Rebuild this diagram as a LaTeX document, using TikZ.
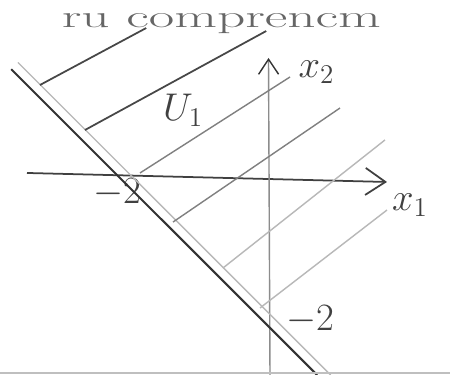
\RequirePackage{fix-cm}
\documentclass[tikz,border=0pt]{standalone}
\usetikzlibrary{
    arrows.meta
}

\begin{document}
\begin{tikzpicture}[
    x=1.5cm,
    y=1.5cm,
    every node/.style={
        font=\fontsize{22pt}{26pt}\selectfont,
        text=black!75
    },
    axislabel/.style={
        inner sep=0pt
    },
    haxis/.style={
        -{Straight Barb[length=4mm,width=5.4mm]},
        line width=1pt,
        draw=black!75
    },
    vaxis/.style={
        -{Straight Barb[length=3mm,width=4mm,color=black!80]},
        line width=0.8pt,
        draw=black!45
    },
    boundary/.style={
        line width=1.2pt,
        draw=black!80
    },
    boundarytwin/.style={
        line width=0.8pt,
        draw=black!28
    },
    hatchdark/.style={
        line width=1pt,
        draw=black!72
    },
    hatchmid/.style={
        line width=0.8pt,
        draw=black!50
    },
    hatchlight/.style={
        line width=0.8pt,
        draw=black!28
    },
    pageedge/.style={
        line width=0.8pt,
        draw=black!25
    }
]

% picture frame (white page)
\fill[white] (-3.6,-2.6267) rectangle (2.4,2.3733);
\useasboundingbox (-3.6,-2.6267) rectangle (2.4,2.3733);

% ===========================================================
% Heading at the top edge
% ===========================================================

\node[anchor=base west, inner sep=0pt, text=black!60,
      font=\fontsize{18pt}{22pt}\selectfont] (heading)
    at (-2.78,2.0)
    {\scalebox{1.75}[1]{ru comprencm}};

% ===========================================================
% Axes
% ===========================================================

\coordinate (xstart) at (-3.24,0.067);
\coordinate (xend)   at (1.56,-0.053);
\coordinate (ystart) at (0,-2.6267);
\coordinate (yend)   at (-0.02,1.6);

\draw[haxis] (xstart) -- (xend);
\draw[vaxis] (ystart) -- (yend);

\node[axislabel] (xone) at (1.867,-0.36) {$x_1$};
\node[axislabel] (xtwo) at (0.62,1.413) {$x_2$};

\node[axislabel] (xmark) at (-2.04,-0.2) {$-2$};
\node[axislabel] (ymark) at (0.533,-1.893) {$-2$};

% ===========================================================
% Boundary line x_1 + x_2 = -2 and its light twin
% ===========================================================

\coordinate (bdtop) at (-3.45,1.45);
\coordinate (bdbot) at (0.627,-2.6267);
\coordinate (twtop) at (-3.36,1.54);
\coordinate (twbot) at (0.807,-2.6267);

\draw[boundary] (bdtop) -- (bdbot);
\draw[boundarytwin] (twtop) -- (twbot);

% ===========================================================
% Hatching of the region U_1
% ===========================================================

\coordinate (ha0) at (-3.067,1.24);
\coordinate (ha1) at (-1.65,2.0);
\coordinate (hb0) at (-2.467,0.64);
\coordinate (hb1) at (-0.05,1.96);
\coordinate (hc0) at (-1.733,0.067);
\coordinate (hc1) at (0.267,1.347);
\coordinate (hd0) at (-1.293,-0.587);
\coordinate (hd1) at (0.933,0.933);
\coordinate (he0) at (-0.627,-1.2);
\coordinate (he1) at (1.533,0.507);
\coordinate (hf0) at (-0.133,-1.733);
\coordinate (hf1) at (1.56,-0.427);

\draw[hatchdark] (ha0) -- (ha1);
\draw[hatchdark] (hb0) -- (hb1);
\draw[hatchmid] (hc0) -- (hc1);
\draw[hatchmid] (hd0) -- (hd1);
\draw[hatchlight] (he0) -- (he1);
\draw[hatchlight] (hf0) -- (hf1);

\node[axislabel, fill=white, inner sep=1pt] (regionlabel)
    at (-1.16,0.907) {$U_1$};

% page edge at the bottom
\draw[pageedge] (-3.6,-2.6) -- (2.4,-2.6);

\end{tikzpicture}
\end{document}
